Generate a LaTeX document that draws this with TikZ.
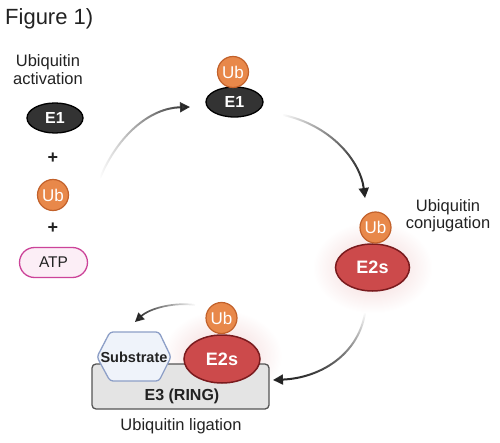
\documentclass[tikz,border=0pt]{standalone}
\usepackage{fontspec}
\setmainfont{Liberation Sans}
\usetikzlibrary{arrows.meta,fadings,shapes.geometric}
\definecolor{eonefill}{HTML}{333333}
\definecolor{ubfill}{HTML}{E8884A}
\definecolor{ubborder}{HTML}{C2612B}
\definecolor{etwofill}{HTML}{CC4A4B}
\definecolor{etwoborder}{HTML}{7A1B1E}
\definecolor{subfill}{HTML}{EFF3FA}
\definecolor{subborder}{HTML}{8D9FC7}
\definecolor{ethreefill}{HTML}{E4E4E4}
\definecolor{ethreeborder}{HTML}{555555}
\definecolor{atpfill}{HTML}{FCEEF6}
\definecolor{atpborder}{HTML}{CC4499}
\definecolor{arrowc}{HTML}{222222}
\definecolor{txt}{HTML}{222222}
\definecolor{glowc}{HTML}{F2D2D2}
\tikzfading[name=fadeL, left color=transparent!100, middle color=transparent!0, right color=transparent!0]
\tikzfading[name=fadeT, top color=transparent!100, middle color=transparent!0, bottom color=transparent!0]
\tikzfading[name=fadeR, left color=transparent!0, middle color=transparent!0, right color=transparent!100]
\begin{document}
\begin{tikzpicture}[x=1pt,y=-1pt,
  ub/.style={circle, draw=ubborder, fill=ubfill, line width=1.2pt, minimum size=31pt, inner sep=0pt, text=white, font=\fontsize{17}{17}\selectfont},
  eone/.style={ellipse, draw=black, fill=eonefill, line width=1.3pt, minimum width=56pt, minimum height=30pt, inner sep=0pt, text=white, font=\bfseries\fontsize{16}{16}\selectfont},
  etwo/.style={ellipse, draw=etwoborder, fill=etwofill, line width=1.5pt, minimum width=74pt, minimum height=47pt, inner sep=0pt, text=white, font=\bfseries\fontsize{18}{18}\selectfont},
  lbl/.style={text=txt, font=\fontsize{16.5}{16.5}\selectfont, inner sep=0pt},
  plus/.style={text=txt, font=\bfseries\fontsize{18}{18}\selectfont, inner sep=0pt},
  arr/.style={line width=2pt, draw=arrowc, -{Triangle[length=10pt,width=10pt]}},
  glow/.style={inner color=glowc, outer color=white}
]
\useasboundingbox (0,0) rectangle (500,443);
\fill[white] (0,0) rectangle (500,443);

% title
\node[lbl, anchor=base west, font=\fontsize{22}{22}\selectfont] (title) at (5,25) {Figure 1)};

% left column
\node[lbl, anchor=base] (actA) at (48,67) {Ubiquitin};
\node[lbl, anchor=base] (actB) at (48,85) {activation};
\node[eone] (eoneL) at (55,118) {E1};
\node[plus] (plusA) at (53,158) {+};
\node[ub] (ubL) at (53,195) {Ub};
\node[plus] (plusB) at (53,228) {+};
\node[draw=atpborder, fill=atpfill, line width=1.3pt, rounded corners=15pt, minimum width=68pt, minimum height=30pt, inner sep=0pt, text=txt, font=\fontsize{15.5}{15.5}\selectfont] (atp) at (53.5,262.5) {ATP};

% glows
\shade[glow] (372.5,267.5) ellipse [x radius=60, y radius=46];
\shade[glow] (222,356) ellipse [x radius=60, y radius=46];

% top
\node[eone, minimum width=57pt] (eoneT) at (234.5,102) {E1};
\node[ub] (ubT) at (233,72) {Ub};

% right
\node[lbl, anchor=base] (conjA) at (448,212) {Ubiquitin};
\node[lbl, anchor=base] (conjB) at (448,229) {conjugation};
\node[etwo] (etwoR) at (372.5,267.5) {E2s};
\node[ub] (ubR) at (375.5,227.5) {Ub};

% bottom
\node[draw=ethreeborder, fill=ethreefill, line width=1.3pt, rounded corners=4pt, minimum width=177pt, minimum height=45pt, inner sep=0pt] (ethree) at (180.5,386.5) {};
\node[lbl, font=\bfseries\fontsize{16}{16}\selectfont] (ethreet) at (182,396) {E3 (RING)};
\draw[draw=subborder, fill=subfill, line width=1.3pt, rounded corners=3pt]
  (97,357) -- (110,332) -- (159,332) -- (171,357) -- (159,381) -- (110,381) -- cycle;
\node[lbl, font=\bfseries\fontsize{14.5}{14.5}\selectfont] (sub) at (134,357) {Substrate};
\node[etwo, minimum width=76pt, minimum height=48pt] (etwoB) at (222,359) {E2s};
\node[ub] (ubB) at (221.5,318) {Ub};
\node[lbl, anchor=base] (lig) at (181,430) {Ubiquitin ligation};

% arrows
\coordinate (aones) at (100,178);
\coordinate (aonee) at (190,107);
\coordinate (atwos) at (283,115);
\coordinate (atwoe) at (365,198);
\coordinate (athrees) at (365,313);
\coordinate (athreee) at (273,380);
\coordinate (afours) at (195,305);
\coordinate (afoure) at (135,322);
\draw[arr, path fading=fadeL] (aones) .. controls (118,135) and (150,108) .. (aonee);
\draw[arr, path fading=fadeL] (atwos) .. controls (330,125) and (360,160) .. (atwoe);
\draw[arr, path fading=fadeT] (athrees) .. controls (358,355) and (320,378) .. (athreee);
\draw[arr, line width=1.7pt, -{Triangle[length=9pt,width=9pt]}, path fading=fadeR] (afours) .. controls (175,302) and (150,308) .. (afoure);
\end{tikzpicture}
\end{document}
